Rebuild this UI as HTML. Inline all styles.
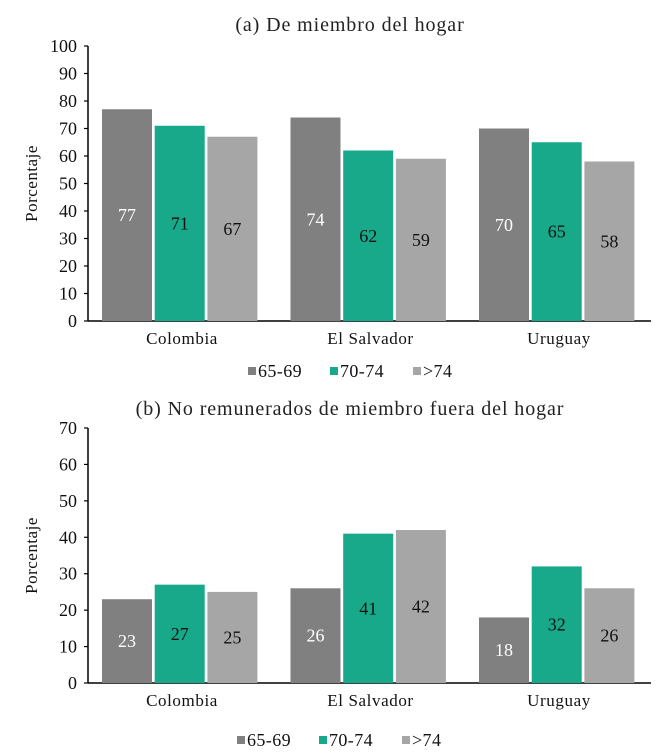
<!DOCTYPE html>
<html><head><meta charset="utf-8"><style>
body{margin:0;background:#fff;}
svg{display:block;font-family:"Liberation Serif",serif;}
</style></head><body>
<svg id="c" width="669" height="754"></svg>
<script>
const categories=["Colombia","El Salvador","Uruguay"];
const seriesNames=["65-69","70-74",">74"];
const aValues=[[77,74,70],[71,62,65],[67,59,58]];
const bValues=[[23,26,18],[27,41,32],[25,42,26]];
const aTicks=[0,10,20,30,40,50,60,70,80,90,100];
const bTicks=[0,10,20,30,40,50,60,70];
const colors=["#808080","#17a98a","#a6a6a6"];
const textCol=["#fff","#111","#111"];
const NS="http://www.w3.org/2000/svg";
const svg=document.getElementById('c');
function mk(t,a,p){const e=document.createElementNS(NS,t);for(const k in a)e.setAttribute(k,a[k]);(p||svg).appendChild(e);return e;}
function panel(title,vals,ticks,max,y0,y1,titleY,legY,legX,name){
  const g=mk('g',{});
  
  
  const yS=v=>y1-(v/max)*(y1-y0);
  const bandX=i=>88+i*188.5;
  const t=mk('text',{x:350,y:titleY,'text-anchor':'middle','font-size':20,'letter-spacing':0.9,fill:'#222'},g);t.textContent=title;
  
  const ax=mk('line',{x1:88,y1:y0,x2:88,y2:y1,stroke:'#000','stroke-width':1.5},g);
  
  const bx=mk('line',{x1:88,y1:y1,x2:651,y2:y1,stroke:'#000','stroke-width':1.5},g);
  
  ticks.forEach(v=>{
    mk('line',{x1:84,y1:yS(v),x2:88,y2:yS(v),stroke:'#000','stroke-width':1.2},g);
    const l=mk('text',{x:77,y:yS(v)+6,'text-anchor':'end','font-size':18,fill:'#111'},g);l.textContent=v;
    
  });
  const yl=mk('text',{x:0,y:0,transform:`translate(37,${(y0+y1)/2}) rotate(-90)`,'text-anchor':'middle','font-size':17,'letter-spacing':0.5,fill:'#111'},g);
  yl.textContent='Porcentaje';
  categories.forEach((c,i)=>{
    const cx=bandX(i)+94;
    vals.forEach((s,j)=>{
      const x=bandX(i)+14+j*52.7, h=y1-yS(s[i]);
      const r=mk('rect',{x:x,y:yS(s[i]),width:50,height:h,fill:colors[j]},g);
      
      
      const vt=mk('text',{x:x+25,y:yS(s[i])+h/2+6,'text-anchor':'middle','font-size':18,fill:textCol[j]},g);
      vt.textContent=s[i];
    });
    const cl=mk('text',{x:cx,y:y1+23,'text-anchor':'middle','font-size':17,'letter-spacing':0.6,fill:'#111'},g);
    cl.textContent=c;
  });
  const lx=[legX,legX+82,legX+165];
  seriesNames.forEach((n,j)=>{
    const sq=mk('rect',{x:lx[j],y:legY-10,width:8,height:8,fill:colors[j]},g);
    
    const lt=mk('text',{x:lx[j]+10,y:legY,'font-size':18,'letter-spacing':0.4,fill:'#111'},g);lt.textContent=n;
    
  });
}
panel('(a) De miembro del hogar',aValues,aTicks,100,46,321,31,377,248,'panel-a');
panel('(b) No remunerados de miembro fuera del hogar',bValues,bTicks,70,428,683,415,746,237,'panel-b');
</script>
</body></html>
